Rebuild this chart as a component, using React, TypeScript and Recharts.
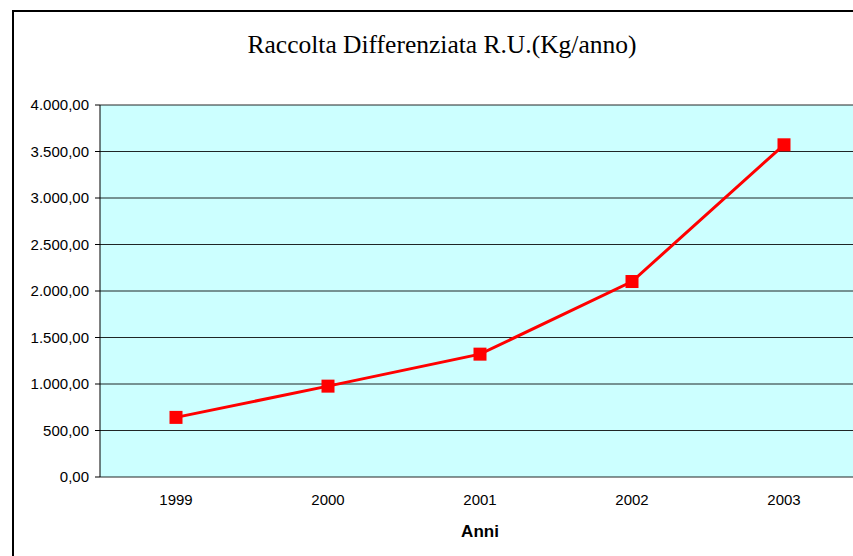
import React from 'react';
import { LineChart, Line, XAxis, YAxis, CartesianGrid } from 'recharts';

const years = ['1999', '2000', '2001', '2002', '2003'];
const values = [641, 977, 1321, 2102, 3572];
const yTicks = [0, 500, 1000, 1500, 2000, 2500, 3000, 3500, 4000];
const labelTicks = [0, 1, 2, 3, 4];
const edgeTicks = [-0.5, 0.5, 1.5, 2.5, 3.5, 4.5];

const data = years.map((y, i) => ({ x: i, year: y, value: values[i] }));

const fmt = (v: number) => {
  const fixed = v.toFixed(2);
  const [intPart, dec] = fixed.split('.');
  const grouped = intPart.replace(/\B(?=(\d{3})+(?!\d))/g, '.');
  return `${grouped},${dec}`;
};

const FONT = '"Liberation Sans", Arial, sans-serif';

const SquareDot = (props: any) => {
  const { cx, cy } = props;
  if (cx == null || cy == null) return null;
  return <rect x={cx - 6.5} y={cy - 6.5} width={13} height={13} fill="#FF0000" />;
};

export default function App() {
  return (
    <div style={{ position: 'absolute', left: 0, top: 0, width: 853, height: 556, overflow: 'hidden', background: '#fff' }}>
      <div style={{ position: 'absolute', left: 12, top: 10, width: 1000, height: 1000, border: '2px solid #000', boxSizing: 'border-box' }} />
      <div style={{ position: 'absolute', left: 0, top: 0 }}>
        <LineChart width={870} height={556} data={data} margin={{ top: 105, right: 10, left: 0, bottom: 49 }}>
          <CartesianGrid vertical={false} fill="#CCFFFF" stroke="#000" strokeOpacity={0.85} />
          <XAxis
            xAxisId="edges"
            type="number"
            dataKey="x"
            domain={[-0.5, 4.5]}
            ticks={edgeTicks}
            interval={0}
            height={0}
            tick={false}
            tickSize={5}
            axisLine={{ stroke: '#000' }}
            tickLine={{ stroke: '#000' }}
          />
          <XAxis
            type="number"
            dataKey="x"
            domain={[-0.5, 4.5]}
            ticks={labelTicks}
            interval={0}
            height={30}
            tickLine={false}
            axisLine={false}
            tickSize={5}
            tickMargin={12}
            tickFormatter={(i: number) => years[i]}
            tick={{ fill: '#000', fontSize: 15, fontFamily: FONT }}
          />
          <YAxis
            type="number"
            domain={[0, 4000]}
            ticks={yTicks}
            interval={0}
            width={100}
            tickSize={5}
            tickMargin={6}
            tickFormatter={fmt}
            axisLine={{ stroke: '#000' }}
            tickLine={{ stroke: '#000' }}
            tick={{ fill: '#000', fontSize: 15, fontFamily: FONT }}
          />
          <Line
            type="linear"
            dataKey="value"
            stroke="#FF0000"
            strokeWidth={3}
            dot={<SquareDot />}
            activeDot={false}
            isAnimationActive={false}
          />
        </LineChart>
      </div>
      <svg width={853} height={556} style={{ position: 'absolute', left: 0, top: 0, pointerEvents: 'none' }}>
        <text x={442} y={53} textAnchor="middle" fontFamily='"Liberation Serif", "Times New Roman", serif' fontSize={25.5} fill="#000">
          Raccolta Differenziata R.U.(Kg/anno)
        </text>
        <text x={480} y={537} textAnchor="middle" fontFamily={FONT} fontSize={17} fontWeight="bold" fill="#000">
          Anni
        </text>
      </svg>
    </div>
  );
}
